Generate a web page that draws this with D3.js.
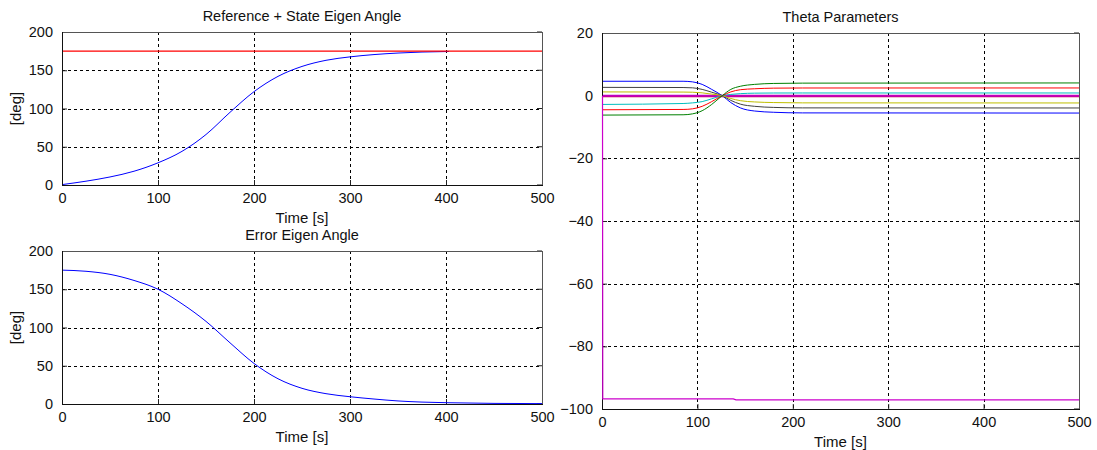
<!DOCTYPE html>
<html>
<head>
<meta charset="utf-8">
<script src="https://cdn.jsdelivr.net/npm/d3@7"></script>
<style>
  body { margin: 0; background: #fff; }
  svg { display: block; font-family: "Liberation Sans", Arial, sans-serif; }
</style>
</head>
<body>
<svg id="chart" width="1097" height="450"></svg>
<script>
// ---- data ----
const timeTicks = [0, 100, 200, 300, 400, 500];
const angleTicks = [0, 50, 100, 150, 200];
const thetaTicks = [20, 0, -20, -40, -60, -80, -100];

// reference eigen angle (constant) and state eigen angle
const refTime = [0, 500];
const refAngle = [175, 175];
const stateTime  = [0, 25, 50, 75, 100, 125, 150, 175, 200, 225, 250, 275, 300, 325, 350, 375, 403];
const stateAngle = [0.5, 5, 10.5, 18, 29, 44, 66, 95, 122, 142, 155, 163, 167.5, 170.5, 172.5, 173.8, 174.5];

// error eigen angle
const errTime  = [0, 25, 50, 75, 100, 125, 150, 175, 200, 225, 250, 275, 300, 325, 350, 375, 400, 450, 500];
const errAngle = [175, 173.5, 169.5, 161.5, 150, 131, 108, 80, 53, 33, 20.5, 13.5, 9.5, 6.5, 4, 2.5, 1.7, 0.8, 0.5];

// theta parameter histories
const thetaTime = [0, 85, 95, 105, 115, 126, 135, 145, 160, 180, 210, 500];
const thetaBlue   = [4.6, 4.6, 4.4, 3.6, 2.0, 0, -2.2, -3.9, -4.9, -5.3, -5.5, -5.55];
const thetaGray   = [2.65, 2.6, 2.5, 2.0, 1.1, 0, -1.5, -2.7, -3.4, -3.75, -3.9, -3.93];
const thetaYellow = [1.2, 1.15, 1.1, 0.9, 0.5, 0, -0.9, -1.6, -2.0, -2.2, -2.3, -2.33];
const thetaCyan   = [-2.8, -2.5, -2.3, -1.9, -1.0, 0, 0.4, 0.65, 0.8, 0.85, 0.86, 0.86];
const thetaRed    = [-4.5, -4.4, -4.2, -3.4, -1.9, 0, 1.2, 1.9, 2.2, 2.4, 2.45, 2.46];
const thetaGreen  = [-6.2, -6.1, -5.8, -4.8, -2.8, 0, 2.0, 3.0, 3.6, 3.9, 4.0, 4.06];
const thetaZeroA  = [0, 0, 0, 0, 0, 0, 0, 0, 0, 0, 0, 0];
const thetaZeroB  = [-0.2, -0.2, -0.2, -0.2, -0.2, -0.2, -0.2, -0.2, -0.2, -0.2, -0.2, -0.2];
// gain parameter that jumps from 0 at start
const thetaLowTime = [0, 0.3, 137, 140, 500];
const thetaLow     = [0, -96.8, -96.8, -97.1, -97.1];

const thetaSeries = [
  { v: thetaZeroB,  color: "#d0004a", w: 2 },
  { v: thetaZeroA,  color: "#c000c0", w: 2 },
  { v: thetaBlue,   color: "#0000ff", w: 1 },
  { v: thetaGray,   color: "#404040", w: 1 },
  { v: thetaYellow, color: "#bfbf00", w: 1 },
  { v: thetaCyan,   color: "#00bfbf", w: 1 },
  { v: thetaRed,    color: "#ff0000", w: 1 },
  { v: thetaGreen,  color: "#008000", w: 1 }
];

const svg = d3.select("#chart");
let clipId = 0;

// draws one framed axes panel with grid, ticks and labels; returns scales + plot group
function panel(box, yDomain, yTicks, title, xLabel, yLabel) {
  const x = d3.scaleLinear().domain([0, 500]).range([box.l, box.r]);
  const y = d3.scaleLinear().domain(yDomain).range([box.b, box.t]);
  const g = svg.append("g");

  // grid
  const grid = g.append("g").attr("stroke", "#000").attr("stroke-width", 1)
    .attr("stroke-dasharray", "3,3").attr("fill", "none");
  timeTicks.slice(1, -1).forEach(t => {
    grid.append("line").attr("x1", Math.round(x(t)) + 0.5).attr("x2", Math.round(x(t)) + 0.5)
      .attr("y1", box.t).attr("y2", box.b);
  });
  yTicks.filter(v => v !== yDomain[0] && v !== yDomain[1]).forEach(v => {
    grid.append("line").attr("y1", Math.round(y(v)) + 0.5).attr("y2", Math.round(y(v)) + 0.5)
      .attr("x1", box.l).attr("x2", box.r);
  });

  // axes via d3 axis generators, ticks pointing inward
  const xAxis = g.append("g").attr("transform", `translate(0,${box.b})`)
    .call(d3.axisBottom(x).tickValues(timeTicks).tickSizeInner(-5).tickSizeOuter(0).tickPadding(8));
  const yAxis = g.append("g").attr("transform", `translate(${box.l},0)`)
    .call(d3.axisLeft(y).tickValues(yTicks).tickSizeInner(-5).tickSizeOuter(0).tickPadding(9));
  [xAxis, yAxis].forEach(a => {
    a.select(".domain").remove();
    a.selectAll("line").attr("stroke", "#222");
    a.selectAll("text").attr("font-size", 14.5).attr("fill", "#111")
      .attr("font-family", "Liberation Sans, Arial, sans-serif");
  });
  // right-side ticks too
  yTicks.forEach(v => {
    g.append("line").attr("x1", box.r).attr("x2", box.r - 5)
      .attr("y1", y(v)).attr("y2", y(v)).attr("stroke", "#222");
  });

  // clip region for data
  const id = "clip" + (clipId++);
  svg.append("clipPath").attr("id", id).append("rect")
    .attr("x", box.l).attr("y", box.t).attr("width", box.r - box.l).attr("height", box.b - box.t);
  const plot = svg.append("g").attr("clip-path", `url(#${id})`);

  // frame drawn on top
  const frame = svg.append("g").attr("fill", "none").attr("stroke-width", 1);
  frame.append("rect").attr("x", box.l + 0.5).attr("y", box.t + 0.5)
    .attr("width", box.r - box.l).attr("height", box.b - box.t).attr("stroke", "#555");
  frame.append("line").attr("x1", box.l + 0.5).attr("x2", box.l + 0.5)
    .attr("y1", box.t).attr("y2", box.b + 1).attr("stroke", "#111");
  frame.append("line").attr("x1", box.l).attr("x2", box.r + 1)
    .attr("y1", box.b + 0.5).attr("y2", box.b + 0.5).attr("stroke", "#111");

  // overlay group (above the frame) for traces that sit on the axis line
  const id2 = "clip" + (clipId++);
  svg.append("clipPath").attr("id", id2).append("rect")
    .attr("x", box.l - 1).attr("y", box.t).attr("width", box.r - box.l + 1).attr("height", box.b - box.t);
  const over = svg.append("g").attr("clip-path", `url(#${id2})`);

  // titles / labels
  const cx = (box.l + box.r) / 2;
  svg.append("text").attr("x", cx).attr("y", box.t - 11).attr("text-anchor", "middle")
    .attr("font-size", 14.5).attr("fill", "#111").text(title);
  svg.append("text").attr("x", cx).attr("y", box.b + 38).attr("text-anchor", "middle")
    .attr("font-size", 15).attr("fill", "#111").text(xLabel);
  if (yLabel) {
    svg.append("text").attr("transform", `translate(${box.l - 41},${(box.t + box.b) / 2}) rotate(-90)`)
      .attr("text-anchor", "middle").attr("font-size", 15).attr("fill", "#111").text(yLabel);
  }
  return { x, y, plot, over };
}

function drawLine(p, ts, vs, color, w) {
  const line = d3.line().x(d => p.x(d[0])).y(d => p.y(d[1])).curve(d3.curveMonotoneX);
  p.plot.append("path").datum(d3.zip(ts, vs)).attr("d", line)
    .attr("fill", "none").attr("stroke", color).attr("stroke-width", w);
}

// top-left: reference + state eigen angle
const p1 = panel({ l: 62, r: 542, t: 32, b: 185 }, [0, 200], angleTicks,
  "Reference + State Eigen Angle", "Time [s]", "[deg]");
drawLine(p1, stateTime, stateAngle, "#0000ff", 1);
drawLine(p1, refTime, refAngle, "#ff0000", 1.2);

// bottom-left: error eigen angle
const p2 = panel({ l: 62, r: 542, t: 251, b: 404 }, [0, 200], angleTicks,
  "Error Eigen Angle", "Time [s]", "[deg]");
drawLine(p2, errTime, errAngle, "#0000ff", 1);

// right: theta parameters
const p3 = panel({ l: 602, r: 1079, t: 33, b: 409 }, [-100, 20], thetaTicks,
  "Theta Parameters", "Time [s]", null);
thetaSeries.forEach(s => drawLine(p3, thetaTime, s.v, s.color, s.w));
const lowLine = d3.line().x(d => p3.x(d[0]) + 0.5).y(d => p3.y(d[1]));
p3.over.append("path").datum(d3.zip(thetaLowTime, thetaLow)).attr("d", lowLine)
  .attr("fill", "none").attr("stroke", "#cc00cc").attr("stroke-width", 1.2);
</script>
</body>
</html>
